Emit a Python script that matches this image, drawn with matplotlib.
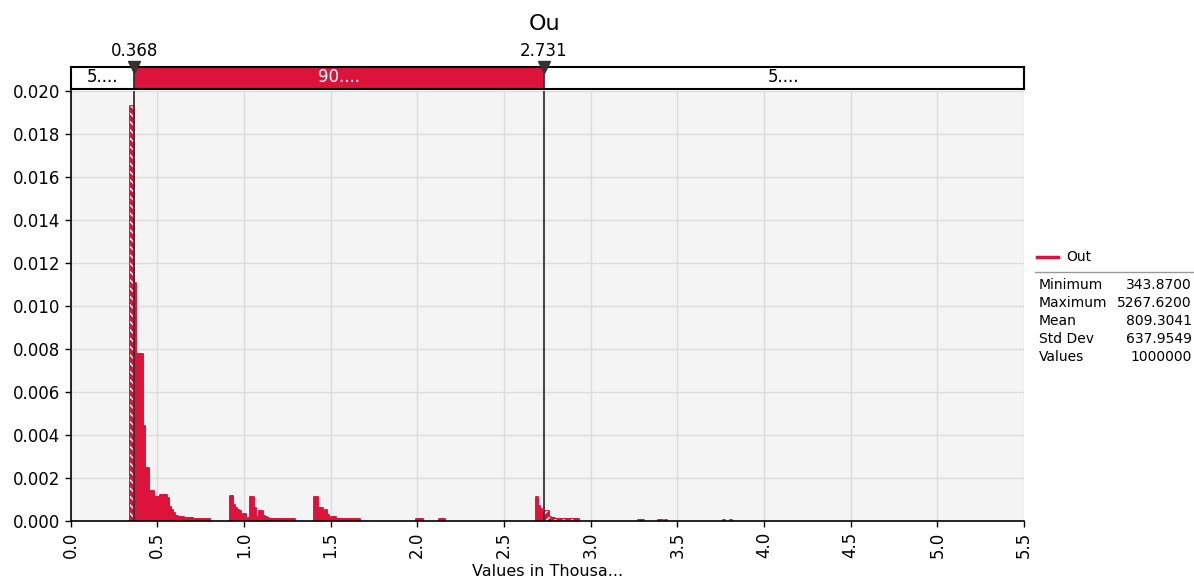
import numpy as np
import matplotlib
matplotlib.use("Agg")
import matplotlib.pyplot as plt
from matplotlib.lines import Line2D

# histogram of "Out" (values in thousands), bins of 0.0125
bin_w = 0.0125
cluster_starts = [0.3425, 0.9225, 1.405, 1.995, 2.125, 2.685, 3.2725, 3.39, 3.765]
cluster_heights = [
    [0.0193, 0.0193, 0.0111, 0.0078, 0.0078, 0.0078, 0.00445, 0.00247, 0.00247,
     0.00143, 0.00143, 0.00112, 0.00112, 0.00112, 0.00123, 0.00123, 0.00123,
     0.0011, 0.00069, 0.00053, 0.00038, 0.00026, 0.0002, 0.0002, 0.0002,
     0.00015, 0.00015, 0.00015, 0.00015, 0.0001, 0.0001, 0.0001, 0.0001,
     0.0001, 0.0001, 0.0001, 0.0001],
    [0.0012, 0.00077, 0.00061, 0.00055, 0.00049, 0.0003, 0.00033, 0.00013,
     0.00015, 0.00115, 0.00115, 0.00061, 0.00023, 0.00049, 0.00049, 0.00026,
     0.00019, 0.00015, 0.0001, 0.0001, 0.0001, 0.0001, 0.0001, 0.0001,
     0.0001, 0.0001, 0.0001, 0.0001, 0.0001, 0.0001],
    [0.00112, 0.00112, 0.00061, 0.00061, 0.00045, 0.00053, 0.0003, 0.00015,
     0.0002, 0.0002, 0.0001, 0.0001, 0.0001, 0.0001, 0.0001, 0.0001, 0.00013,
     0.0001, 0.0001, 0.0001, 0.0001],
    [0.0001, 0.0001, 0.0001],
    [0.0001, 0.0001, 0.0001],
    [0.00115, 0.00072, 0.0006, 0.00038, 0.0005, 0.0005, 0.00022, 0.00015,
     0.00015, 0.0001, 0.0001, 0.0001, 0.0001, 0.0001, 0.0001, 0.0001, 0.0001,
     0.0001, 0.0001, 0.0001],
    [0.00008, 0.00008, 0.00008],
    [0.00008, 0.00008, 0.0, 0.00008],
    [0.00006, 0.0, 0.0, 0.00006],
]

lower, upper = 0.368, 2.731
band_labels = ["5....", "90....", "5...."]
stat_names = ["Minimum", "Maximum", "Mean", "Std Dev", "Values"]
stat_values = ["343.8700", "5267.6200", "809.3041", "637.9549", "1000000"]

red = "#dc143c"
dark = "#333333"

fig = plt.figure(figsize=(11.94, 5.79), dpi=100)
ax = fig.add_axes([0.05905, 0.09931, 0.79858, 0.74352])
ax.set_facecolor("#f4f4f4")

def draw_bar(x0, x1, h):
    if h <= 0:
        return
    pieces = [(max(x0, a), min(x1, b), hat) for a, b, hat in
              [(-1, lower, "\\\\\\\\"), (lower, upper, None), (upper, 9, "////")]]
    for a, b, hat in pieces:
        if b <= a:
            continue
        ax.bar(a, h, width=b - a, align="edge", color=red, edgecolor=red,
               linewidth=1.4, joinstyle="round", zorder=3)
        if hat:
            ax.bar(a, h, width=b - a, align="edge", facecolor="none",
                   edgecolor="white", linewidth=0, hatch=hat, zorder=4)

for start, hs in zip(cluster_starts, cluster_heights):
    for i, h in enumerate(hs):
        draw_bar(start + i * bin_w, start + (i + 1) * bin_w, h)

ax.set_xlim(0, 5.5)
ax.set_ylim(0, 0.020)
ax.set_xticks(np.arange(0, 5.51, 0.5))
ax.set_xticklabels(["%.1f" % v for v in np.arange(0, 5.51, 0.5)], rotation=90)
ax.set_yticks(np.arange(0, 0.0201, 0.002))
ax.set_yticklabels(["%.3f" % v for v in np.arange(0, 0.0201, 0.002)])
ax.tick_params(labelsize=12, length=4, width=1, color="black")
ax.grid(True, color="#dcdcdc", linewidth=1, zorder=0)
ax.set_axisbelow(True)
for s in ["top", "right"]:
    ax.spines[s].set_visible(False)
for s in ["left", "bottom"]:
    ax.spines[s].set_linewidth(1.2)
    ax.spines[s].set_zorder(7)
ax.set_xlabel("Values in Thousa...", fontsize=11.5, labelpad=4)
for d in (lower, upper):
    ax.axvline(d, color=dark, linewidth=1.3, zorder=6)

# delimiter band
bx = fig.add_axes([0.05905, 1 - 88.5 / 579, 0.79858, 22 / 579])
bx.set_xlim(0, 5.5)
bx.set_ylim(0, 1)
bx.axvspan(0, lower, color="white")
bx.axvspan(lower, upper, color=red)
bx.axvspan(upper, 5.5, color="white")
for d in (lower, upper):
    bx.axvline(d, color=dark, linewidth=1.3)
bx.set_xticks([])
bx.set_yticks([])
for s in bx.spines.values():
    s.set_linewidth(1.5)
bx.text(lower / 2, 0.5, band_labels[0], ha="center", va="center", fontsize=12)
bx.text((lower + upper) / 2, 0.5, band_labels[1], ha="center", va="center",
        fontsize=12, color="white")
bx.text((upper + 5.5) / 2, 0.5, band_labels[2], ha="center", va="center", fontsize=12)
for d in (lower, upper):
    bx.plot([d], [1.0], marker="v", markersize=8, color=dark, clip_on=False, zorder=5)
    bx.text(d, 1.7, "%.3f" % d, ha="center", va="center", fontsize=12)

fig.text(545 / 1194, 1 - 24 / 579, "Ou", ha="center", va="center", fontsize=16)

# legend and statistics
fig.lines.append(Line2D([1037 / 1194, 1058 / 1194], [1 - 257 / 579] * 2,
                        color=red, linewidth=2.5, transform=fig.transFigure))
fig.text(1066 / 1194, 1 - 257 / 579, "Out", ha="left", va="center", fontsize=10)
fig.lines.append(Line2D([1035 / 1194, 1194 / 1194], [1 - 272 / 579] * 2,
                        color="#999999", linewidth=1, transform=fig.transFigure))
for i, (n, v) in enumerate(zip(stat_names, stat_values)):
    y = 1 - (285 + 18 * i) / 579
    fig.text(1039 / 1194, y, n, ha="left", va="center", fontsize=10)
    fig.text(1192 / 1194, y, v, ha="right", va="center", fontsize=10)

fig.savefig("out.png", dpi=100)
